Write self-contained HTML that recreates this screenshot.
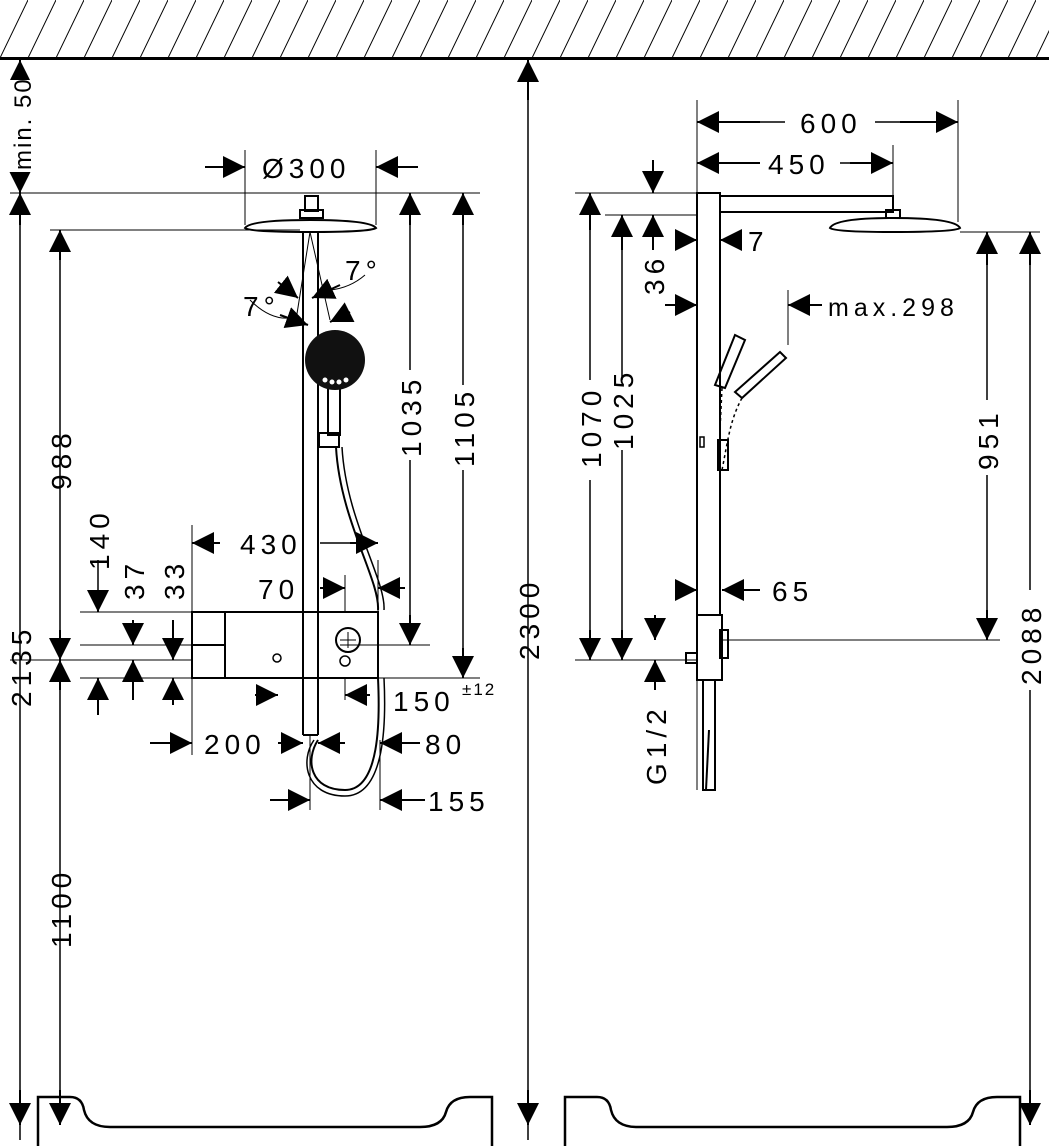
<!DOCTYPE html>
<html><head><meta charset="utf-8"><style>
html,body{margin:0;padding:0;background:#fff;}
svg{display:block;}
text{font-family:"Liberation Sans",sans-serif;font-size:28px;fill:#000;letter-spacing:5px;}
</style></head><body>
<svg width="1049" height="1146" viewBox="0 0 1049 1146" xmlns="http://www.w3.org/2000/svg">
<defs>
<marker id="a" markerUnits="userSpaceOnUse" markerWidth="24" markerHeight="22" refX="22" refY="11" orient="auto">
<path d="M0,0 L22,11 L0,22 z" fill="#000"/></marker>
<pattern id="h" patternUnits="userSpaceOnUse" width="28" height="58">
<line x1="0" y1="58" x2="28" y2="0" stroke="#000" stroke-width="1"/></pattern>
</defs>
<rect x="0" y="0" width="1049" height="58" fill="url(#h)"/>
<line x1="0" y1="58.5" x2="1049" y2="58.5" stroke="#000" stroke-width="3"/>

<g stroke="#000" stroke-width="1.5" fill="none">
<line x1="20" y1="60" x2="20" y2="1140"/>
<line x1="528" y1="60" x2="528" y2="1140"/>
<line x1="60" y1="232" x2="60" y2="1115"/>
<line x1="10" y1="193" x2="480" y2="193" stroke-width="1"/>
<line x1="50" y1="230" x2="300" y2="230" stroke-width="1"/>
<line x1="10" y1="660" x2="300" y2="660" stroke-width="1"/>
<line x1="80" y1="645" x2="192" y2="645" stroke-width="1"/>
<line x1="80" y1="612" x2="192" y2="612" stroke-width="1"/>
<line x1="80" y1="678" x2="480" y2="678" stroke-width="1"/>
<line x1="378" y1="645" x2="430" y2="645" stroke-width="1"/>
<line x1="245" y1="150" x2="245" y2="225" stroke-width="1"/>
<line x1="376" y1="150" x2="376" y2="225" stroke-width="1"/>
<line x1="192" y1="525" x2="192" y2="612" stroke-width="1"/>
<line x1="192" y1="678" x2="192" y2="755" stroke-width="1"/>
<line x1="378" y1="560" x2="378" y2="612" stroke-width="1"/>
<line x1="345" y1="575" x2="345" y2="700" stroke-width="1"/>
<line x1="310" y1="735" x2="310" y2="810" stroke-width="1"/>
<line x1="380" y1="740" x2="380" y2="810" stroke-width="1"/>
<path d="M245,228 Q250,220 310,220 Q370,220 376,228 Q370,232 310,232 Q250,232 245,228 z" stroke-width="2"/>
<rect x="305" y="196" width="13" height="15" stroke-width="2"/>
<rect x="300" y="210" width="23" height="8" stroke-width="2"/>
<line x1="303" y1="232" x2="303" y2="735" stroke-width="2"/>
<line x1="318" y1="232" x2="318" y2="735" stroke-width="2"/>
<line x1="303" y1="735" x2="318" y2="735" stroke-width="2"/>
<line x1="310" y1="232" x2="296" y2="320" stroke-width="1"/>
<line x1="310" y1="232" x2="330" y2="320" stroke-width="1"/>
<rect x="328" y="385" width="12" height="50" stroke-width="2"/>
<rect x="319" y="433" width="20" height="14" stroke-width="2"/>
<path d="M336,447 C340,520 380,580 378,610" stroke-width="2"/>
<path d="M342,447 C346,520 386,580 384,610" stroke-width="1.5"/>
<path d="M378,678 C380,720 380,790 345,790 C310,790 305,760 318,740" stroke-width="2"/>
<path d="M384,678 C386,720 386,796 345,796 C305,796 300,760 314,740" stroke-width="1.5"/>
<rect x="192" y="612" width="186" height="66" stroke-width="2" fill="#fff"/>
<line x1="225" y1="612" x2="225" y2="678" stroke-width="2"/>
<line x1="192" y1="645" x2="225" y2="645" stroke-width="2"/>
<circle cx="348" cy="640" r="12" stroke-width="2"/>
<line x1="340" y1="640" x2="356" y2="640" stroke-width="1"/><line x1="348" y1="632" x2="348" y2="648" stroke-width="1"/>
<circle cx="345" cy="661" r="5" stroke-width="1.5"/>
<circle cx="277" cy="658" r="4" stroke-width="1.5"/>
<line x1="303" y1="612" x2="303" y2="678" stroke-width="2"/>
<line x1="318" y1="612" x2="318" y2="678" stroke-width="2"/>
<line x1="340" y1="645" x2="430" y2="645" stroke-width="1"/>
<path d="M38,1146 L38,1097 L70,1097 Q82,1097 84,1110 Q88,1127 110,1127 L420,1127 Q442,1127 446,1112 Q450,1097 470,1097 L492,1097 L492,1146" stroke-width="2.5"/>
<path d="M565,1146 L565,1097 L597,1097 Q609,1097 611,1110 Q615,1127 637,1127 L947,1127 Q969,1127 973,1112 Q977,1097 997,1097 L1020,1097 L1020,1146" stroke-width="2.5"/>
<line x1="697" y1="100" x2="697" y2="790" stroke-width="1"/>
<line x1="958" y1="100" x2="958" y2="222" stroke-width="1"/>
<line x1="893" y1="145" x2="893" y2="200" stroke-width="1"/>
<rect x="697" y="193" width="23" height="422" stroke-width="2"/>
<path d="M720,196 L893,196 L893,212 L720,212" stroke-width="2"/>
<rect x="886" y="210" width="14" height="8" stroke-width="2"/>
<path d="M830,228 Q835,218 893,218 Q955,218 960,228 Q955,232 893,232 Q835,232 830,228 z" stroke-width="2"/>
<line x1="575" y1="193" x2="697" y2="193" stroke-width="1"/>
<line x1="605" y1="215" x2="697" y2="215" stroke-width="1"/>
<line x1="960" y1="232" x2="1040" y2="232" stroke-width="1"/>
<line x1="575" y1="660" x2="697" y2="660" stroke-width="1"/>
<line x1="722" y1="640" x2="1000" y2="640" stroke-width="1"/>
<line x1="788" y1="290" x2="788" y2="345" stroke-width="1"/>
<rect x="697" y="615" width="25" height="65" stroke-width="2" fill="#fff"/>
<rect x="720" y="630" width="8" height="28" stroke-width="2"/>
<rect x="686" y="653" width="11" height="10" stroke-width="2"/>
<rect x="703" y="680" width="12" height="110" stroke-width="2"/>
<line x1="709" y1="730" x2="706" y2="790" stroke-width="2"/>
<path d="M715,385 L735,335 L745,340 L725,388 z" stroke-width="2"/>
<path d="M735,392 L780,352 L786,358 L742,398 z" stroke-width="2"/>
<path d="M722,388 L720,430 M742,398 C730,420 728,440 722,470" stroke-width="1.5" stroke-dasharray="3,3"/>
<rect x="718" y="440" width="10" height="30" stroke-width="2"/>
<rect x="700" y="437" width="4" height="10" stroke-width="1.5"/>
<path d="M250,300 Q270,320 290,318" stroke-width="1"/>
<path d="M330,290 Q350,288 365,275" stroke-width="1"/>
</g>

<g stroke="#000" stroke-width="2" marker-end="url(#a)">
<line x1="20" y1="100" x2="20" y2="60"/>
<line x1="20" y1="160" x2="20" y2="193"/>
<line x1="20" y1="225" x2="20" y2="193"/>
<line x1="20" y1="1090" x2="20" y2="1125"/>
<line x1="528" y1="100" x2="528" y2="60"/>
<line x1="528" y1="1090" x2="528" y2="1125"/>
<line x1="60" y1="260" x2="60" y2="230"/>
<line x1="60" y1="630" x2="60" y2="660"/>
<line x1="60" y1="690" x2="60" y2="660"/>
<line x1="60" y1="1090" x2="60" y2="1125"/>
<line x1="205" y1="167" x2="245" y2="167"/>
<line x1="418" y1="167" x2="376" y2="167"/>
<line x1="410" y1="225" x2="410" y2="193"/>
<line x1="410" y1="615" x2="410" y2="645"/>
<line x1="463" y1="225" x2="463" y2="193"/>
<line x1="463" y1="648" x2="463" y2="678"/>
<line x1="220" y1="543" x2="192" y2="543"/>
<line x1="350" y1="543" x2="378" y2="543"/>
<line x1="320" y1="588" x2="345" y2="588"/>
<line x1="405" y1="588" x2="378" y2="588"/>
<line x1="98" y1="590" x2="98" y2="612"/>
<line x1="98" y1="715" x2="98" y2="678"/>
<line x1="133" y1="620" x2="133" y2="645"/>
<line x1="133" y1="700" x2="133" y2="660"/>
<line x1="173" y1="620" x2="173" y2="660"/>
<line x1="173" y1="705" x2="173" y2="678"/>
<line x1="255" y1="695" x2="278" y2="695"/>
<line x1="370" y1="695" x2="345" y2="695"/>
<line x1="150" y1="743" x2="192" y2="743"/>
<line x1="278" y1="743" x2="303" y2="743"/>
<line x1="345" y1="743" x2="318" y2="743"/>
<line x1="420" y1="743" x2="380" y2="743"/>
<line x1="270" y1="800" x2="310" y2="800"/>
<line x1="425" y1="800" x2="380" y2="800"/>
<line x1="278" y1="282" x2="298" y2="298"/>
<line x1="340" y1="285" x2="312" y2="298"/>
<line x1="280" y1="315" x2="308" y2="325"/>
<line x1="350" y1="312" x2="330" y2="322"/>
<line x1="760" y1="122" x2="697" y2="122"/>
<line x1="900" y1="122" x2="958" y2="122"/>
<line x1="760" y1="163" x2="697" y2="163"/>
<line x1="850" y1="163" x2="893" y2="163"/>
<line x1="653" y1="160" x2="653" y2="193"/>
<line x1="653" y1="250" x2="653" y2="215"/>
<line x1="675" y1="240" x2="697" y2="240"/>
<line x1="742" y1="240" x2="720" y2="240"/>
<line x1="665" y1="305" x2="697" y2="305"/>
<line x1="822" y1="305" x2="788" y2="305"/>
<line x1="590" y1="230" x2="590" y2="193"/>
<line x1="590" y1="630" x2="590" y2="660"/>
<line x1="622" y1="250" x2="622" y2="215"/>
<line x1="622" y1="630" x2="622" y2="660"/>
<line x1="987" y1="265" x2="987" y2="232"/>
<line x1="987" y1="610" x2="987" y2="640"/>
<line x1="1030" y1="265" x2="1030" y2="232"/>
<line x1="1030" y1="1090" x2="1030" y2="1125"/>
<line x1="675" y1="590" x2="697" y2="590"/>
<line x1="760" y1="590" x2="722" y2="590"/>
<line x1="655" y1="615" x2="655" y2="640"/>
<line x1="655" y1="690" x2="655" y2="660"/>
</g>
<g stroke="#000" stroke-width="1.5">
<line x1="590" y1="230" x2="590" y2="380"/><line x1="590" y1="480" x2="590" y2="630"/>
<line x1="622" y1="250" x2="622" y2="380"/><line x1="622" y1="450" x2="622" y2="630"/>
<line x1="987" y1="265" x2="987" y2="400"/><line x1="987" y1="475" x2="987" y2="610"/>
<line x1="1030" y1="265" x2="1030" y2="590"/><line x1="1030" y1="690" x2="1030" y2="1090"/>
<line x1="410" y1="225" x2="410" y2="370"/><line x1="410" y1="460" x2="410" y2="615"/>
<line x1="463" y1="225" x2="463" y2="385"/><line x1="463" y1="470" x2="463" y2="648"/>
<line x1="760" y1="122" x2="785" y2="122"/><line x1="875" y1="122" x2="900" y2="122"/>
<line x1="840" y1="163" x2="850" y2="163"/>
<line x1="320" y1="543" x2="350" y2="543"/>
<line x1="98" y1="560" x2="98" y2="590"/>
</g>

<text x="262" y="178">Ø300</text>
<text x="800" y="133">600</text>
<text x="768" y="174">450</text>
<text x="748" y="251">7</text>
<text x="828" y="316" style="font-size:25px">max.298</text>
<text x="772" y="601">65</text>
<text x="240" y="554">430</text>
<text x="258" y="599">70</text>
<text x="393" y="711">150</text>
<text x="462" y="695" style="font-size:17px;letter-spacing:2px">±12</text>
<text x="204" y="754">200</text>
<text x="425" y="754">80</text>
<text x="428" y="811">155</text>
<text x="345" y="280">7°</text>
<text x="243" y="316">7°</text>
<rect x="8" y="80" width="24" height="92" fill="#fff"/>
<text transform="translate(31,170) rotate(-90)" style="font-size:24px;letter-spacing:2px">min. 50</text>
<text transform="translate(31,707) rotate(-90)">2135</text>
<text transform="translate(71,490) rotate(-90)">988</text>
<text transform="translate(71,948) rotate(-90)">1100</text>
<text transform="translate(109,570) rotate(-90)">140</text>
<text transform="translate(144,600) rotate(-90)">37</text>
<text transform="translate(184,600) rotate(-90)">33</text>
<text transform="translate(421,457) rotate(-90)">1035</text>
<text transform="translate(474,467) rotate(-90)">1105</text>
<text transform="translate(539,660) rotate(-90)">2300</text>
<text transform="translate(601,468) rotate(-90)">1070</text>
<text transform="translate(633,450) rotate(-90)">1025</text>
<text transform="translate(664,295) rotate(-90)">36</text>
<text transform="translate(666,785) rotate(-90)">G1/2</text>
<text transform="translate(998,470) rotate(-90)">951</text>
<text transform="translate(1041,685) rotate(-90)">2088</text>
<circle cx="335" cy="360" r="30" fill="#111"/>
<g fill="#fff"><circle cx="325" cy="380" r="2.5"/><circle cx="332" cy="382" r="2.5"/><circle cx="339" cy="382" r="2.5"/><circle cx="346" cy="380" r="2.5"/></g>
</svg>
</body></html>
